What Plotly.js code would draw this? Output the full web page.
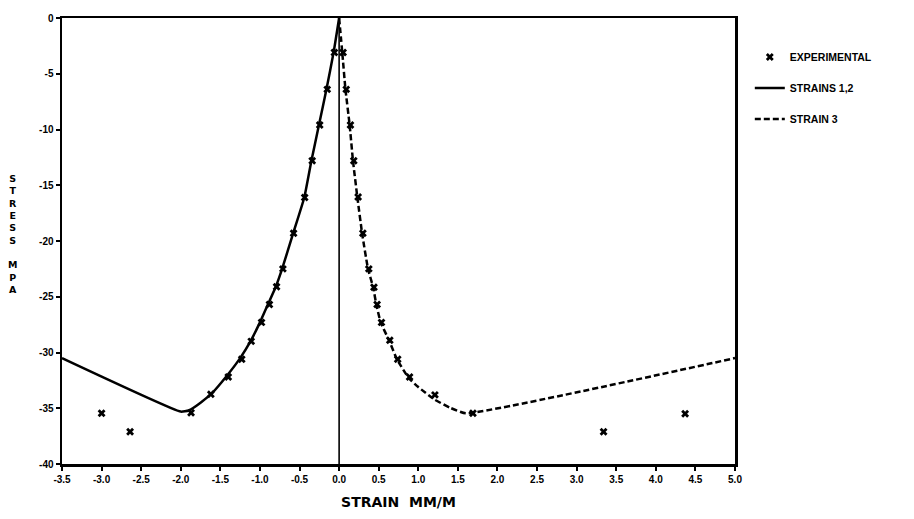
<!DOCTYPE html>
<html>
<head>
<meta charset="utf-8">
<script src="https://cdn.plot.ly/plotly-3.0.1.min.js"></script>
<style>
html,body{margin:0;padding:0;background:#fff;}
#chart{width:914px;height:519px;}
</style>
</head>
<body>
<div id="chart"></div>
<script>
// Experimental points
const expStrain = [-3.0, -2.64, -1.87, -1.62, -1.40, -1.23, -1.11, -0.98, -0.88, -0.79, -0.71, -0.575, -0.435, -0.34, -0.245, -0.15, -0.06,
                   0.05, 0.09, 0.143, 0.185, 0.24, 0.30, 0.375, 0.44, 0.48, 0.535, 0.64, 0.74, 0.89, 1.21, 1.69, 3.34, 4.37];
const expStress = [-35.45, -37.1, -35.4, -33.75, -32.2, -30.6, -29.0, -27.3, -25.7, -24.1, -22.5, -19.3, -16.1, -12.8, -9.6, -6.4, -3.1,
                   -3.1, -6.4, -9.6, -12.8, -16.05, -19.3, -22.5, -24.15, -25.7, -27.3, -28.9, -30.6, -32.2, -33.8, -35.45, -37.1, -35.5];

// Strains 1,2 (solid)
const s12Strain = [-3.5, -2.0, -1.9, -1.75, -1.6, -1.42, -1.25, -1.12, -1.0, -0.9, -0.8, -0.72, -0.58, -0.44, -0.35, -0.255, -0.16, -0.07, 0.0];
const s12Stress = [-30.5, -35.3, -35.2, -34.5, -33.6, -32.1, -30.5, -29.0, -27.3, -25.7, -24.1, -22.5, -19.3, -16.1, -12.8, -9.6, -6.4, -3.1, 0.0];

// Strain 3 (dashed)
const s3Strain = [0.0, 0.04, 0.08, 0.133, 0.175, 0.23, 0.29, 0.365, 0.43, 0.47, 0.525, 0.63, 0.73, 0.88, 1.0, 1.2, 1.4, 1.6, 5.0];
const s3Stress = [0.0, -3.1, -6.4, -9.6, -12.8, -16.05, -19.3, -22.5, -24.15, -25.7, -27.3, -28.9, -30.6, -32.3, -33.1, -34.2, -34.95, -35.45, -30.5];

const xTicks = [-3.5, -3.0, -2.5, -2.0, -1.5, -1.0, -0.5, 0.0, 0.5, 1.0, 1.5, 2.0, 2.5, 3.0, 3.5, 4.0, 4.5, 5.0];
const yTicks = [0, -5, -10, -15, -20, -25, -30, -35, -40];
const yTitleLetters = ['S','T','R','E','S','S','','M','P','A'];

const M = {l:62, r:179, t:18, b:55};
const H = 519, plotH = H - M.t - M.b, plotW = 914 - M.l - M.r;

const traces = [
  {x: expStrain, y: expStress, mode: 'markers', name: 'EXPERIMENTAL', legendgroup: 'a',
   marker: {symbol: 'x', size: 7, color: '#000', line: {width: 0}}},
  {x: s12Strain, y: s12Stress, mode: 'lines', name: 'STRAINS 1,2', legendgroup: 'b',
   line: {color: '#000', width: 2.5, shape: 'spline', smoothing: 0.4}},
  {x: s3Strain, y: s3Stress, mode: 'lines', name: 'STRAIN 3', legendgroup: 'c',
   line: {color: '#000', width: 2.5, dash: '6px,3px', shape: 'spline', smoothing: 0.4}}
];

const layout = {
  width: 914, height: 519,
  margin: M,
  paper_bgcolor: '#fff', plot_bgcolor: '#fff',
  showlegend: true,
  legend: {x: 1.022, y: 0.945, xanchor: 'left', yanchor: 'top', traceorder: 'grouped', tracegroupgap: 12,
    font: {family: 'Liberation Sans', size: 10.5, weight: 'bold', color: '#000'}, bgcolor: 'rgba(0,0,0,0)'},
  xaxis: {range: [-3.5, 5.0], tickvals: xTicks, ticktext: xTicks.map(v => v.toFixed(1)),
    showgrid: false, zeroline: false, showline: true, linecolor: '#000', linewidth: 2.5, mirror: true,
    ticks: 'outside', ticklen: 4, tickwidth: 2, tickcolor: '#000',
    tickfont: {family: 'Liberation Sans', size: 10, weight: 'bold', color: '#000'},
    title: {text: 'STRAIN  MM/M', standoff: 14, font: {family: 'DejaVu Sans', size: 14, weight: 'bold', color: '#000'}}},
  yaxis: {range: [-40, 0], tickvals: yTicks, ticktext: yTicks.map(v => String(v)),
    showgrid: false, zeroline: false, showline: true, linecolor: '#000', linewidth: 2.5, mirror: true,
    ticks: 'outside', ticklen: 4, tickwidth: 2, tickcolor: '#000',
    tickfont: {family: 'Liberation Sans', size: 10, weight: 'bold', color: '#000'}},
  shapes: [{type: 'line', xref: 'x', yref: 'y', x0: 0, x1: 0, y0: -40, y1: 0,
    line: {color: '#000', width: 1.6}}],
  annotations: [{text: yTitleLetters.join('<br>'), xref: 'paper', yref: 'paper',
    x: -50 / plotW, y: 1 - (234 - M.t) / plotH, xanchor: 'center', yanchor: 'middle', showarrow: false,
    align: 'center', font: {family: 'DejaVu Sans', size: 9.5, weight: 'bold', color: '#000'}}]
};

Plotly.newPlot('chart', traces, layout, {displayModeBar: false, staticPlot: true});
</script>
</body>
</html>
